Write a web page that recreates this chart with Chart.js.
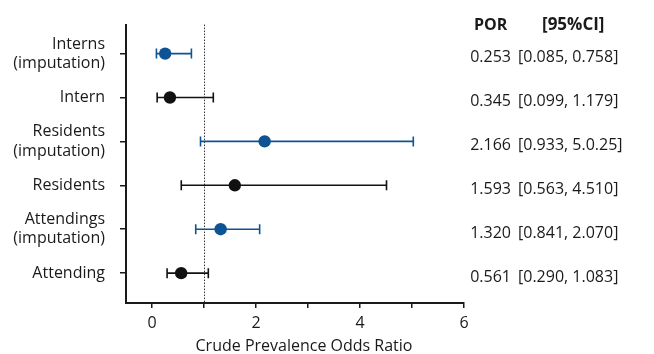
<!DOCTYPE html>
<html>
<head>
<meta charset="utf-8">
<script src="https://cdn.jsdelivr.net/npm/chart.js@4"></script>
<style>
  html, body { margin: 0; padding: 0; background: #fff; }
</style>
</head>
<body>
<canvas id="c" width="654" height="354"></canvas>
<script>
// Groups from top to bottom, with their row position on the vertical scale
const groups = [["Interns", "(imputation)"], "Intern", ["Residents", "(imputation)"], "Residents", ["Attendings", "(imputation)"], "Attending"];
const rowPos = [6, 5, 4, 3, 2, 1];
const imputed = [true, false, true, false, true, false];

// Crude prevalence odds ratios and 95% confidence limits
const por = [0.253, 0.345, 2.166, 1.593, 1.320, 0.561];
const ciLow = [0.085, 0.099, 0.933, 0.563, 0.841, 0.290];
const ciHigh = [0.758, 1.179, 5.025, 4.510, 2.070, 1.083];
const porText = ["0.253", "0.345", "2.166", "1.593", "1.320", "0.561"];
const ciText = ["[0.085, 0.758]", "[0.099, 1.179]", "[0.933, 5.0.25]", "[0.563, 4.510]", "[0.841, 2.070]", "[0.290, 1.083]"];

// Horizontal axis ticks
const xTicks = [0, 1, 2, 3, 4, 5, 6];
const xTickLabels = ["0", "", "2", "", "4", "", "6"];
const xTitle = 'Crude Prevalence Odds Ratio';
const nullValue = 1;

const BLUE = '#0e5394';
const BLACK = '#111111';
const INK = '#1a1a1a';
const FONT = '"Open Sans", Lato, sans-serif';

Chart.defaults.font.family = FONT;
Chart.defaults.color = INK;

const colorOf = i => imputed[i] ? BLUE : BLACK;

// One capped segment per group for the confidence interval
const intervalSets = por.map((v, i) => ({
  showLine: true,
  data: [{ x: ciLow[i], y: rowPos[i] }, { x: ciHigh[i], y: rowPos[i] }],
  borderColor: colorOf(i),
  borderWidth: 1.6,
  pointStyle: 'line',
  rotation: 90,
  pointRadius: 5,
  pointBorderWidth: 1.6,
  pointBorderColor: colorOf(i),
  pointBackgroundColor: colorOf(i),
  order: 2
}));

// Point estimates
const estimateSets = [true, false].map(flag => ({
  showLine: false,
  data: por.map((v, i) => ({ x: v, y: rowPos[i] })).filter((p, i) => imputed[i] === flag),
  pointStyle: 'circle',
  pointRadius: 6.2,
  borderWidth: 0,
  backgroundColor: flag ? BLUE : BLACK,
  order: 1
}));

// Dotted line of no effect
const nullLine = {
  id: 'nullLine',
  beforeDatasetsDraw(chart) {
    const { ctx, chartArea, scales } = chart;
    const x = Math.round(scales.x.getPixelForValue(nullValue)) + 0.5;
    ctx.save();
    ctx.strokeStyle = '#333';
    ctx.lineWidth = 1;
    ctx.setLineDash([1.5, 1.5]);
    ctx.beginPath();
    ctx.moveTo(x, chartArea.top);
    ctx.lineTo(x, chartArea.bottom);
    ctx.stroke();
    ctx.restore();
  }
};

// Table of estimates at the right of the plot, plus the axis title
const estimateTable = {
  id: 'estimateTable',
  afterDraw(chart) {
    const { ctx, scales } = chart;
    ctx.save();
    ctx.fillStyle = INK;
    ctx.textBaseline = 'middle';
    ctx.font = 'bold 16px ' + FONT;
    ctx.textAlign = 'left';
    ctx.fillText('POR', 474, 25);
    ctx.font = 'bold 17px ' + FONT;
    ctx.fillText('[95%CI]', 542, 25);
    ctx.font = '16px ' + FONT;
    rowPos.forEach((r, i) => {
      const y = scales.y.getPixelForValue(r) + 4;
      ctx.textAlign = 'right';
      ctx.fillText(porText[i], 511, y);
      ctx.textAlign = 'left';
      ctx.fillText(ciText[i], 518, y);
    });
    ctx.textAlign = 'center';
    ctx.font = '16px ' + FONT;
    ctx.fillText(xTitle, 304, 346);
    ctx.restore();
  }
};

new Chart(document.getElementById('c'), {
  type: 'scatter',
  data: { datasets: [...intervalSets, ...estimateSets] },
  plugins: [nullLine, estimateTable],
  options: {
    responsive: false,
    animation: false,
    layout: { padding: { top: 24, right: 190, bottom: 0, left: 0 } },
    plugins: { legend: { display: false }, tooltip: { enabled: false } },
    scales: {
      x: {
        type: 'linear',
        min: -0.5,
        max: 6,
        afterBuildTicks: s => { s.ticks = xTicks.map(v => ({ value: v })); },
        afterFit: s => { s.height = 51; },
        ticks: {
          callback: v => xTickLabels[xTicks.indexOf(v)],
          autoSkip: false,
          maxRotation: 0,
          padding: 6,
          color: INK,
          font: { size: 16 }
        },
        grid: { drawOnChartArea: false, drawTicks: true, tickLength: 5, color: INK, lineWidth: 1.5 },
        border: { display: true, color: INK, width: 2 },
        title: { display: false }
      },
      y: {
        type: 'linear',
        min: 0.32,
        max: 6.66,
        afterBuildTicks: s => { s.ticks = rowPos.map(v => ({ value: v })); },
        afterFit: s => { s.width = 126; },
        ticks: {
          callback: v => groups[rowPos.indexOf(v)],
          autoSkip: false,
          padding: 15,
          color: INK,
          font: { size: 16, lineHeight: 1.2 }
        },
        grid: { drawOnChartArea: false, drawTicks: true, tickLength: 6, color: INK, lineWidth: 1.5 },
        border: { display: true, color: INK, width: 2 }
      }
    }
  }
});
</script>
</body>
</html>
